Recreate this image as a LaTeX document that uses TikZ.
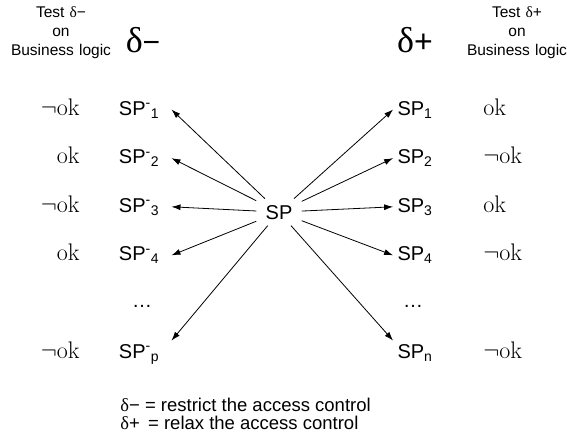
\RequirePackage{fix-cm}
\documentclass[tikz,border=0pt]{standalone}
\usepackage[no-math]{fontspec}
\setmainfont{Liberation Sans}
\newfontfamily\greekfont{Liberation Serif}
\usepackage{tikz}
\usetikzlibrary{arrows.meta,positioning}
\newcommand{\fsize}[2]{\fontsize{#1}{#2}\selectfont}
\newcommand{\dlt}{{\greekfont δ}}

\begin{document}
\begin{tikzpicture}[x=1pt, y=-1pt, >={Latex[length=9pt,width=6pt]},
    testlabel/.style={text width=110pt, align=center, inner sep=0pt, font=\fsize{15.5}{19}},
    spleft/.style={anchor=base, inner xsep=12pt, inner ysep=3pt, font=\fsize{20}{24}},
    spright/.style={anchor=base, inner xsep=4pt, inner ysep=3pt, font=\fsize{20}{24}},
    okleft/.style={anchor=base east, inner sep=0pt, font=\fsize{24}{28}},
    okright/.style={anchor=base west, inner sep=0pt, font=\fsize{24}{28}},
    legend/.style={anchor=base west, inner sep=0pt, font=\fsize{18.5}{18}},
    every path/.style={line width=0.8pt}]
  \useasboundingbox (0,0) rectangle (567,440);

  \node (test_minus) [testlabel] at (61,33) {Test \dlt−\\on\\Business logic};
  \node (test_plus) [testlabel] at (517,33) {Test \dlt+\\on\\Business logic};
  \node (delta_minus) [anchor=base, inner sep=0pt] at (143,52) {\fsize{36}{40}\dlt\fsize{30}{34}−};
  \node (delta_plus) [anchor=base, inner sep=0pt] at (415,52) {\fsize{36}{40}\dlt\fsize{32}{36}+};

  \node (sp) [anchor=base, inner xsep=9pt, inner ysep=6pt, font=\fsize{20}{24}] at (279,219) {SP};

  \node (spm1) [spleft] at (139,115) {SP\textsuperscript{-}\textsubscript{1}};
  \node (spm2) [spleft] at (139,163.6) {SP\textsuperscript{-}\textsubscript{2}};
  \node (spm3) [spleft] at (139,212.2) {SP\textsuperscript{-}\textsubscript{3}};
  \node (spm4) [spleft] at (139,260.8) {SP\textsuperscript{-}\textsubscript{4}};
  \node (dots_left) [anchor=base, font=\fsize{20}{24}] at (142,307) {\ldots};
  \node (spmp) [spleft] at (139,358) {SP\textsuperscript{-}\textsubscript{p}};

  \node (sp1) [spright] at (415,115) {SP\textsubscript{1}};
  \node (sp2) [spright] at (415,163.6) {SP\textsubscript{2}};
  \node (sp3) [spright] at (415,212.2) {SP\textsubscript{3}};
  \node (sp4) [spright] at (415,260.8) {SP\textsubscript{4}};
  \node (dots_right) [anchor=base, font=\fsize{20}{24}] at (413,307) {\ldots};
  \node (spn) [spright] at (415,358) {SP\textsubscript{n}};

  \node (okm1) [okleft] at (80,115) {$\neg\mathrm{ok}$};
  \node (okm2) [okleft] at (80,163.6) {$\mathrm{ok}$};
  \node (okm3) [okleft] at (80,212.2) {$\neg\mathrm{ok}$};
  \node (okm4) [okleft] at (80,260.8) {$\mathrm{ok}$};
  \node (okmp) [okleft] at (80,358) {$\neg\mathrm{ok}$};

  \node (okp1) [okright] at (483,115) {$\mathrm{ok}$};
  \node (okp2) [okright] at (483,163.6) {$\neg\mathrm{ok}$};
  \node (okp3) [okright] at (483,212.2) {$\mathrm{ok}$};
  \node (okp4) [okright] at (483,260.8) {$\neg\mathrm{ok}$};
  \node (okpn) [okright] at (483,358) {$\neg\mathrm{ok}$};

  \draw [->] (sp) -- (spm1.east);
  \draw [->] (sp) -- (spm2.east);
  \draw [->] (sp) -- (spm3.east);
  \draw [->] (sp) -- (spm4.east);
  \draw [->] (sp) -- (spmp.north east);

  \draw [->] (sp) -- (sp1.west);
  \draw [->] (sp) -- (sp2.west);
  \draw [->] (sp) -- (sp3.west);
  \draw [->] (sp) -- (sp4.west);
  \draw [->] (sp) -- (spn.north west);

  \node (legend_minus) [legend] at (120,411) {\dlt− = restrict the access control};
  \node (legend_plus) [legend] at (120,429) {\dlt+ \,= relax the access control};
\end{tikzpicture}
\end{document}
